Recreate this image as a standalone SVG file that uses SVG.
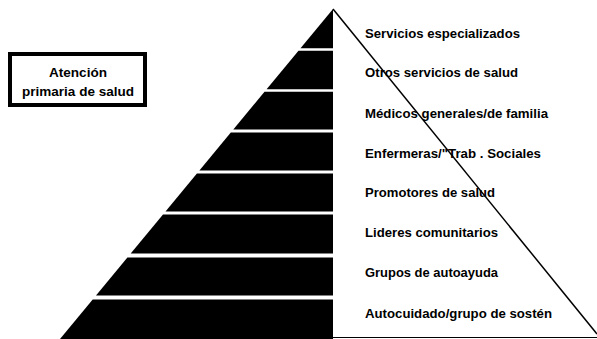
<svg xmlns="http://www.w3.org/2000/svg" width="597" height="339" viewBox="0 0 597 339">
<style>
  .band { fill: #000; }
  .lbl { font-family: "Liberation Sans", Arial, sans-serif; font-size: 13px; font-weight: bold; fill: #000; }
  .box { fill: #fff; stroke: #000; stroke-width: 4; }
  .edge { stroke: #000; stroke-width: 1.5; fill: none; }
</style>
<rect width="597" height="339" fill="#fff"/>
<g id="atencion-primaria">
  <rect class="box" x="10" y="54" width="135" height="51"/>
  <text class="lbl" x="78" y="76.5" text-anchor="middle" textLength="58" lengthAdjust="spacingAndGlyphs">Atención</text>
  <text class="lbl" x="78" y="95.5" text-anchor="middle" textLength="112" lengthAdjust="spacingAndGlyphs">primaria de salud</text>
</g>
<g id="level-1">
  <polygon class="band" points="333,9 333,48.25 300.5,48.25"/>
  <text class="lbl" x="365" y="37.5" textLength="155" lengthAdjust="spacingAndGlyphs">Servicios especializados</text>
</g>
<g id="level-2">
  <polygon class="band" points="298.5,50.75 333,50.75 333,89.25 266.6,89.25"/>
  <text class="lbl" x="365" y="76.5" textLength="153" lengthAdjust="spacingAndGlyphs">Otros servicios de salud</text>
</g>
<g id="level-3">
  <polygon class="band" points="264.5,91.75 333,91.75 333,129.5 233.3,129.5"/>
  <text class="lbl" x="365" y="117.5" textLength="183" lengthAdjust="spacingAndGlyphs">Médicos generales/de familia</text>
</g>
<g id="level-4">
  <polygon class="band" points="230.8,132.5 333,132.5 333,170.5 199.4,170.5"/>
  <text class="lbl" x="365" y="157.5" textLength="176" lengthAdjust="spacingAndGlyphs">Enfermeras/"Trab . Sociales</text>
</g>
<g id="level-5">
  <polygon class="band" points="196.9,173.5 333,173.5 333,211.5 165.5,211.5"/>
  <text class="lbl" x="365" y="196.5" textLength="130" lengthAdjust="spacingAndGlyphs">Promotores de salud</text>
</g>
<g id="level-6">
  <polygon class="band" points="163,214.5 333,214.5 333,253.5 130.7,253.5"/>
  <text class="lbl" x="365" y="236.5" textLength="133" lengthAdjust="spacingAndGlyphs">Lideres comunitarios</text>
</g>
<g id="level-7">
  <polygon class="band" points="127.4,257.5 333,257.5 333,295.5 96,295.5"/>
  <text class="lbl" x="365" y="276.5" textLength="133" lengthAdjust="spacingAndGlyphs">Grupos de autoayuda</text>
</g>
<g id="level-8">
  <polygon class="band" points="92.7,299.5 333,299.5 333,339 60,339"/>
  <text class="lbl" x="365" y="317.5" textLength="187" lengthAdjust="spacingAndGlyphs">Autocuidado/grupo de sostén</text>
</g>
<g id="connectors">
  <line class="edge" x1="333" y1="9" x2="597" y2="334"/>
  <line x1="333" y1="337.5" x2="597" y2="337.5" stroke="#000" stroke-width="1"/>
</g>
</svg>
